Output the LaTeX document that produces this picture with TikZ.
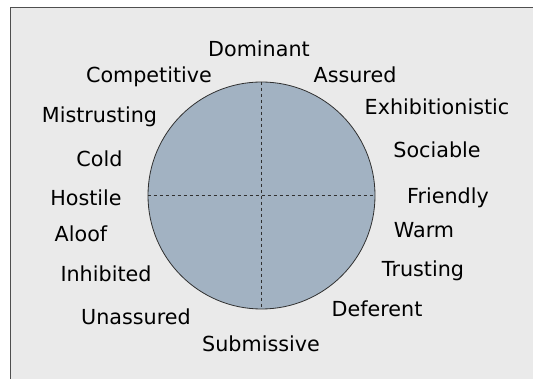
\documentclass[tikz,border=0pt]{standalone}
\usepackage{fontspec}
\setmainfont{DejaVu Sans}
\usepackage{tikz}
\usetikzlibrary{positioning}
\definecolor{panel}{HTML}{EAEAEA}
\definecolor{disc}{HTML}{A2B2C2}
\definecolor{rim}{HTML}{303030}
\tikzset{
  trait/.style={font=\fontsize{20.7}{24}\selectfont, inner sep=0pt, anchor=base},
  wheel/.style={draw=rim, fill=disc, circle, minimum size=227pt, inner sep=0pt, line width=0.8pt},
  axis/.style={draw=rim, dash pattern=on 3pt off 3pt, line width=0.7pt},
  frame/.style={draw=rim!85, line width=1pt}
}

\begin{document}
\begin{tikzpicture}[x=1pt, y=-1pt]
\useasboundingbox (0,0) rectangle (533,379);
\fill[panel] (10,8) rectangle (533,379);
\draw[frame] (533,8) -- (10,8) -- (10,379);
\node[wheel] (wh) at (261.5,195.5) {};
\draw[axis] (wh.north) -- (wh.south);
\draw[axis] (wh.west) -- (wh.east);
% traits round the circle, x / baseline / text / name
\foreach \x/\y/\t/\n in {259/57/Dominant/dom, 149/83/Competitive/comp, 355/83/Assured/assu,
    437/115/Exhibitionistic/exhib, 99.5/123/Mistrusting/mistr, 437/158/Sociable/soc,
    99.5/167/Cold/cold, 86/206/Hostile/host, 448/204/Friendly/friend, 424/238/Warm/warm,
    81/242/Aloof/aloof, 106/282/Inhibited/inhib, 423/277/Trusting/trust,
    377/317/Deferent/defer, 136/325/Unassured/unas, 261/352/Submissive/subm}
  \node[trait] (\n) at (\x,\y) {\t};
\end{tikzpicture}
\end{document}
